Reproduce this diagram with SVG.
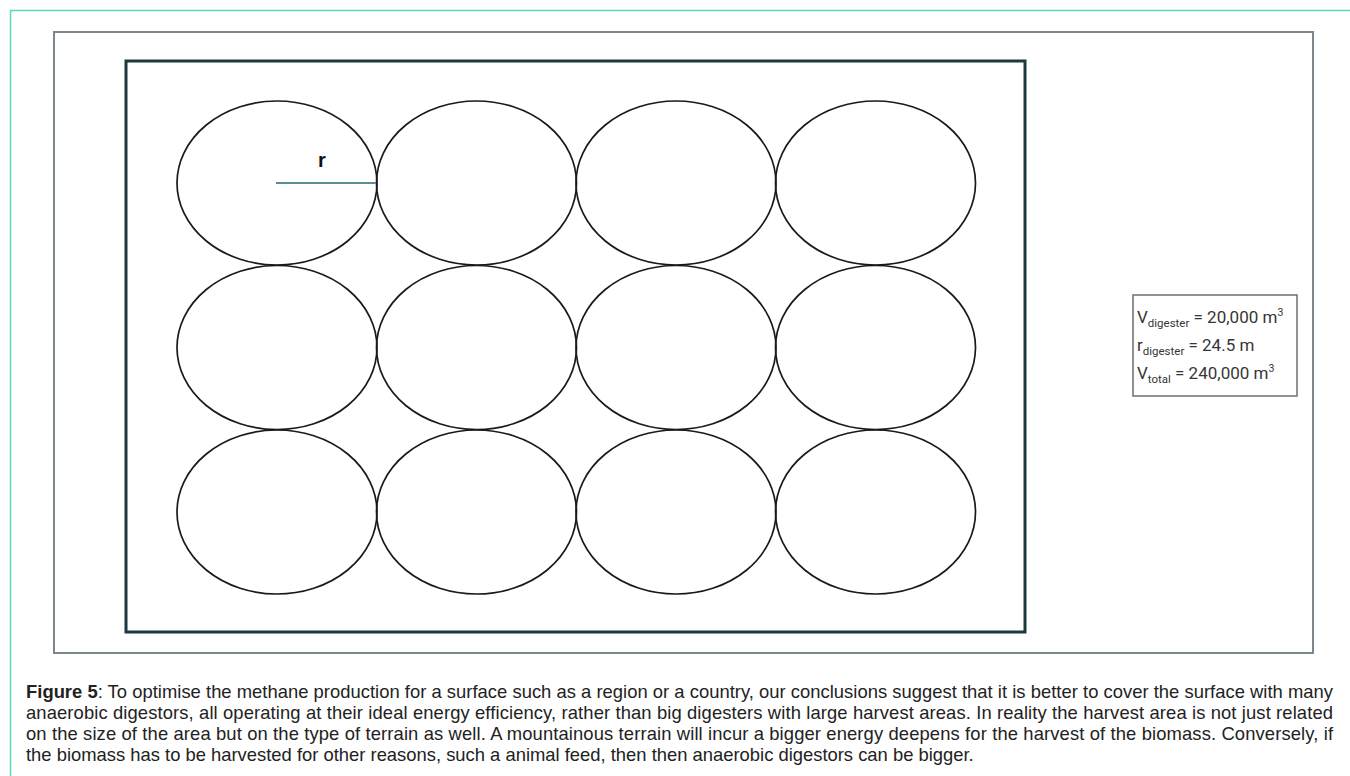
<svg xmlns="http://www.w3.org/2000/svg" width="1350" height="776" viewBox="0 0 1350 776">
<style>
.dig{fill:none;stroke:#1a1a1a;stroke-width:1.7}
.cap{font-family:"Liberation Sans",Arial,sans-serif;font-size:18.4px;fill:#222}
.box{font-family:Roboto,"Liberation Sans",sans-serif;font-size:17px;fill:#363636}
.sub{font-size:11.5px}
.sup{font-size:10.5px}
</style>
<rect width="1350" height="776" fill="#ffffff"/>
<rect x="10.5" y="10.5" width="1400" height="800" fill="none" stroke="#5dd6c2" stroke-width="1.5"/>
<rect id="frame" x="54" y="32" width="1259" height="621" fill="#ffffff" stroke="#7b878c" stroke-width="2"/>
<rect id="area" x="126" y="61" width="899" height="571" fill="#ffffff" stroke="#1c3840" stroke-width="3"/>
<g id="digesters">
<g id="d11"><ellipse class="dig" cx="277" cy="183" rx="100" ry="82"/></g>
<g id="d12"><ellipse class="dig" cx="476.5" cy="183" rx="100" ry="82"/></g>
<g id="d13"><ellipse class="dig" cx="676" cy="183" rx="100" ry="82"/></g>
<g id="d14"><ellipse class="dig" cx="875.5" cy="183" rx="100" ry="82"/></g>
<g id="d21"><ellipse class="dig" cx="277" cy="347.5" rx="100" ry="82"/></g>
<g id="d22"><ellipse class="dig" cx="476.5" cy="347.5" rx="100" ry="82"/></g>
<g id="d23"><ellipse class="dig" cx="676" cy="347.5" rx="100" ry="82"/></g>
<g id="d24"><ellipse class="dig" cx="875.5" cy="347.5" rx="100" ry="82"/></g>
<g id="d31"><ellipse class="dig" cx="277" cy="512" rx="100" ry="82"/></g>
<g id="d32"><ellipse class="dig" cx="476.5" cy="512" rx="100" ry="82"/></g>
<g id="d33"><ellipse class="dig" cx="676" cy="512" rx="100" ry="82"/></g>
<g id="d34"><ellipse class="dig" cx="875.5" cy="512" rx="100" ry="82"/></g>
</g>
<g id="connectors">
<line x1="276" y1="183" x2="376" y2="183" stroke="#5a8c96" stroke-width="1.8"/>
</g>
<text x="322" y="167" font-family="Liberation Sans,Arial,sans-serif" font-size="20" font-weight="bold" fill="#111" text-anchor="middle">r</text>
<g id="legend">
<rect x="1133" y="295" width="164" height="101" fill="#ffffff" stroke="#6f6f6f" stroke-width="1.5"/>
<text class="box" x="1137" y="323">V<tspan class="sub" dy="4">digester</tspan><tspan dy="-4"> = 20,000 m</tspan><tspan class="sup" dy="-7">3</tspan></text>
<text class="box" x="1137" y="351">r<tspan class="sub" dy="4">digester</tspan><tspan dy="-4"> = 24.5 m</tspan></text>
<text class="box" x="1137" y="379">V<tspan class="sub" dy="4">total</tspan><tspan dy="-4"> = 240,000 m</tspan><tspan class="sup" dy="-7">3</tspan></text>
</g>
<g id="caption">
<text class="cap" x="26" y="698" textLength="1307" lengthAdjust="spacing"><tspan font-weight="bold">Figure 5</tspan>: To optimise the methane production for a surface such as a region or a country, our conclusions suggest that it is better to cover the surface with many</text>
<text class="cap" x="26" y="719" textLength="1307" lengthAdjust="spacing">anaerobic digestors, all operating at their ideal energy efficiency, rather than big digesters with large harvest areas.  In reality the harvest area is not just related</text>
<text class="cap" x="26" y="740" textLength="1307" lengthAdjust="spacing">on the size of the area but on the type of terrain as well. A mountainous terrain will incur a bigger energy deepens for the harvest of the biomass.  Conversely, if</text>
<text class="cap" x="26" y="761">the biomass has to be harvested for other reasons, such a animal feed, then then anaerobic digestors can be bigger.</text>
</g>
</svg>
